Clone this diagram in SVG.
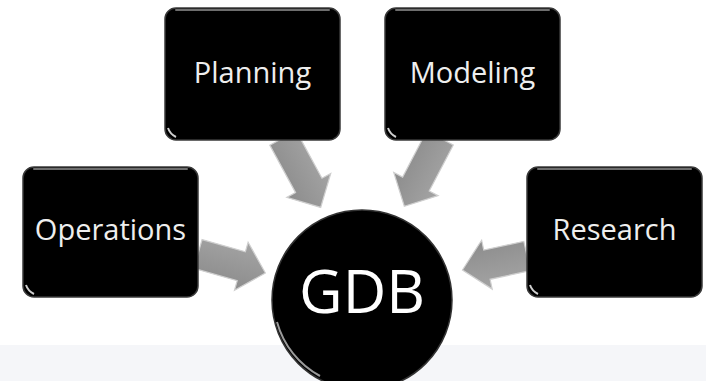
<svg xmlns="http://www.w3.org/2000/svg" width="706" height="381" viewBox="0 0 706 381">
  <defs>
    <style>
      .box { fill: #000; stroke: #3a3a3a; stroke-width: 1.5; }
      .hl { fill: none; stroke: #6e6e6e; stroke-width: 2; stroke-linecap: round; }
      .gl { fill: none; stroke: #cfcfcf; stroke-width: 2; }
      .lbl { font-family: "Open Sans", "DejaVu Sans", sans-serif; font-size: 29px; fill: #eeeeee; text-anchor: middle; }
      .arrow { fill: url(#arrowGrad); stroke: #cfcfcf; stroke-width: 1.2; stroke-linejoin: miter; }
    </style>
    <linearGradient id="arrowGrad" x1="0" y1="0" x2="0" y2="1">
      <stop offset="0" stop-color="#a4a4a4"/>
      <stop offset="1" stop-color="#8c8c8c"/>
    </linearGradient>
  </defs>
  <rect x="0" y="0" width="706" height="381" fill="#ffffff"/>
  <rect x="0" y="345" width="706" height="36" fill="#f5f6f9"/>

  <g id="connectors">
    <polygon class="arrow" transform="translate(198,254) rotate(15.8)" points="0,-15 45,-15 45,-25 70,0 45,25 45,15 0,15"/>
    <polygon class="arrow" transform="translate(527,256) rotate(167.8)" points="0,-15 41,-15 41,-25 66,0 41,25 41,15 0,15"/>
    <polygon class="arrow" transform="translate(283,138) rotate(61.5)" points="0,-15 54,-15 54,-25 79,0 54,25 54,15 0,15"/>
    <polygon class="arrow" transform="translate(440,138) rotate(117.6)" points="0,-15 52,-15 52,-25 77,0 52,25 52,15 0,15"/>
  </g>

  <g id="planning">
    <rect class="box" x="165" y="8" width="175" height="132" rx="11"/>
    <path class="hl" d="M176,10 H329"/>
    <path class="gl" d="M168,128 q2,6 8,9"/>
    <text class="lbl" x="252.5" y="83">Planning</text>
  </g>
  <g id="modeling">
    <rect class="box" x="385" y="8" width="175" height="132" rx="11"/>
    <path class="hl" d="M396,10 H549"/>
    <path class="gl" d="M388,128 q2,6 8,9"/>
    <text class="lbl" x="472.5" y="83">Modeling</text>
  </g>
  <g id="operations">
    <rect class="box" x="23" y="167" width="175" height="130" rx="11"/>
    <path class="hl" d="M34,169 H187"/>
    <path class="gl" d="M26,285 q2,6 8,9"/>
    <text class="lbl" x="110.5" y="240">Operations</text>
  </g>
  <g id="research">
    <rect class="box" x="527" y="167" width="175" height="130" rx="11"/>
    <path class="hl" d="M538,169 H691"/>
    <path class="gl" d="M530,285 q2,6 8,9"/>
    <text class="lbl" x="614.5" y="240">Research</text>
  </g>
  <g id="gdb">
    <circle cx="362" cy="300" r="90" fill="#000" stroke="#333" stroke-width="1.5"/>
    <path d="M277,322 A88,88 0 0 0 320,376" fill="none" stroke="#9a9a9a" stroke-width="2"/>
    <text x="362" y="313" font-family="'Open Sans', 'DejaVu Sans', sans-serif" font-size="60" fill="#ffffff" text-anchor="middle">GDB</text>
  </g>
</svg>
